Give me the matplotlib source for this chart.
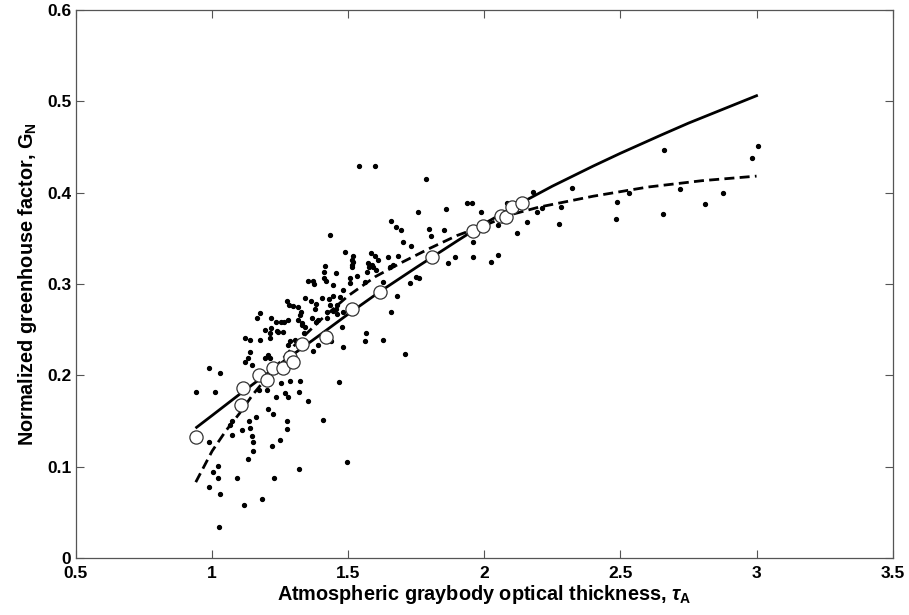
import matplotlib
matplotlib.use("Agg")
import matplotlib.pyplot as plt
from matplotlib import font_manager

# ---------------- data ----------------
dots_x = [0.941, 0.988, 1.029, 1.010, 1.121, 1.139, 1.176, 1.212, 1.212, 1.242, 1.278, 1.304,
          1.139, 1.132, 1.121, 1.146, 1.205, 1.194, 1.212, 1.172, 1.201, 1.253, 1.286, 1.323,
          1.319, 1.267, 1.278, 1.234, 1.352, 1.205, 1.223, 1.161, 1.135, 1.275, 1.407, 1.073,
          1.065, 1.139, 1.275, 1.110, 1.073, 1.146, 1.249, 1.150, 1.220, 0.988, 1.150, 1.132,
          1.021, 1.003, 1.319, 1.021, 1.091, 1.227, 0.988, 1.029, 1.183, 1.117, 1.025, 1.466,
          1.495, 1.330, 1.477, 1.565, 1.561, 1.627, 1.480, 1.389, 1.370, 1.436, 1.708, 1.176,
          1.165, 1.216, 1.234, 1.253, 1.264, 1.278, 1.315, 1.194, 1.216, 1.238, 1.260, 1.337,
          1.341, 1.286, 1.275, 1.282, 1.297, 1.341, 1.363, 1.381, 1.378, 1.403, 1.429, 1.444,
          1.469, 1.433, 1.458, 1.422, 1.444, 1.455, 1.480, 1.315, 1.326, 1.323, 1.367, 1.381,
          1.389, 1.488, 1.513, 1.513, 1.414, 1.411, 1.455, 1.532, 1.506, 1.506, 1.352, 1.370,
          1.374, 1.411, 1.418, 1.444, 1.433, 1.422, 1.458, 1.330, 1.539, 1.598, 1.785, 1.936,
          1.954, 2.083, 1.756, 1.859, 1.987, 1.657, 1.675, 1.693, 1.796, 1.851, 1.701, 1.804,
          1.730, 1.583, 1.598, 1.517, 1.646, 1.682, 1.517, 1.513, 1.572, 1.576, 1.587, 1.591,
          1.602, 1.609, 1.653, 1.664, 1.569, 1.748, 1.760, 1.726, 1.627, 1.892, 1.866, 1.958,
          1.958, 2.024, 2.050, 2.050, 1.679, 1.480, 1.657, 1.561, 2.178, 2.321, 2.211, 2.193,
          2.281, 2.156, 2.274, 2.119, 2.487, 2.483, 2.531, 2.659, 2.655, 2.718, 2.810, 2.876,
          2.982, 3.004]
dots_y = [0.182, 0.208, 0.202, 0.182, 0.241, 0.239, 0.239, 0.241, 0.246, 0.247, 0.233, 0.239,
          0.226, 0.219, 0.214, 0.211, 0.222, 0.219, 0.219, 0.184, 0.184, 0.191, 0.194, 0.194,
          0.182, 0.181, 0.176, 0.176, 0.172, 0.163, 0.158, 0.154, 0.150, 0.150, 0.151, 0.150,
          0.146, 0.142, 0.141, 0.140, 0.135, 0.134, 0.129, 0.127, 0.123, 0.127, 0.117, 0.108,
          0.101, 0.094, 0.097, 0.088, 0.088, 0.088, 0.078, 0.070, 0.065, 0.058, 0.034, 0.193,
          0.105, 0.255, 0.253, 0.246, 0.237, 0.239, 0.231, 0.233, 0.227, 0.237, 0.223, 0.268,
          0.263, 0.263, 0.258, 0.258, 0.258, 0.260, 0.261, 0.250, 0.252, 0.249, 0.247, 0.246,
          0.253, 0.237, 0.281, 0.277, 0.276, 0.285, 0.281, 0.278, 0.272, 0.285, 0.283, 0.287,
          0.286, 0.277, 0.277, 0.269, 0.270, 0.273, 0.269, 0.275, 0.269, 0.266, 0.263, 0.258,
          0.261, 0.335, 0.326, 0.321, 0.320, 0.313, 0.312, 0.309, 0.307, 0.301, 0.303, 0.303,
          0.300, 0.307, 0.303, 0.299, 0.354, 0.263, 0.267, 0.257, 0.429, 0.429, 0.415, 0.389,
          0.389, 0.389, 0.379, 0.382, 0.379, 0.369, 0.362, 0.359, 0.360, 0.359, 0.346, 0.352,
          0.341, 0.334, 0.331, 0.331, 0.330, 0.331, 0.324, 0.319, 0.323, 0.319, 0.321, 0.318,
          0.315, 0.326, 0.319, 0.321, 0.313, 0.308, 0.306, 0.301, 0.302, 0.330, 0.323, 0.329,
          0.346, 0.324, 0.332, 0.365, 0.287, 0.293, 0.269, 0.302, 0.401, 0.405, 0.383, 0.379,
          0.384, 0.368, 0.366, 0.356, 0.390, 0.371, 0.399, 0.447, 0.377, 0.404, 0.388, 0.400,
          0.438, 0.451]

circ_x = [0.940, 1.106, 1.112, 1.173, 1.201, 1.222, 1.259, 1.286, 1.298, 1.331, 1.420,
          1.514, 1.616, 1.809, 1.957, 1.996, 2.063, 2.081, 2.101, 2.137]
circ_y = [0.1325, 0.168, 0.186, 0.200, 0.195, 0.208, 0.208, 0.220, 0.215, 0.234, 0.242,
          0.273, 0.2915, 0.329, 0.358, 0.363, 0.374, 0.373, 0.384, 0.389]

solid_x = [0.943, 1.0, 1.1, 1.25, 1.4, 1.5, 1.616, 1.75, 1.9, 2.0, 2.137, 2.25, 2.4, 2.5,
           2.65, 2.75, 2.9, 3.0]
solid_y = [0.143, 0.156, 0.179, 0.2125, 0.245, 0.267, 0.2915, 0.318, 0.347, 0.366, 0.389,
           0.407, 0.429, 0.443, 0.463, 0.476, 0.494, 0.506]

dash_x = [0.94, 1.0, 1.05, 1.1, 1.15, 1.2, 1.3, 1.4, 1.5, 1.6, 1.7, 1.8, 1.9, 2.0, 2.1,
          2.2, 2.4, 2.6, 2.8, 3.0]
dash_y = [0.083, 0.117, 0.139, 0.158, 0.179, 0.197, 0.232, 0.261, 0.287, 0.308, 0.324,
          0.339, 0.353, 0.364, 0.376, 0.384, 0.396, 0.406, 0.413, 0.418]

x_ticks = [0.5, 1, 1.5, 2, 2.5, 3, 3.5]
x_tick_labels = ["0.5", "1", "1.5", "2", "2.5", "3", "3.5"]
y_ticks = [0, 0.1, 0.2, 0.3, 0.4, 0.5, 0.6]
y_tick_labels = ["0", "0.1", "0.2", "0.3", "0.4", "0.5", "0.6"]

# ---------------- style ----------------
avail = {f.name for f in font_manager.fontManager.ttflist}
fam = ["Liberation Sans Narrow"] if "Liberation Sans Narrow" in avail else ["Liberation Sans"]
plt.rcParams["font.family"] = fam + ["DejaVu Sans"]
plt.rcParams["mathtext.fontset"] = "custom"
plt.rcParams["mathtext.rm"] = fam[0] + ":bold"
plt.rcParams["mathtext.bf"] = fam[0] + ":bold"
plt.rcParams["mathtext.it"] = fam[0] + ":bold:italic"

fig = plt.figure(figsize=(9.09, 6.15), dpi=100)
ax = fig.add_axes([0.0836, 0.0927, 0.8984, 0.8913])

ax.plot(dots_x, dots_y, linestyle="none", marker="o", markersize=2.8,
        color="black", zorder=2)
ax.plot(dash_x, dash_y, color="black", linewidth=2.0,
        linestyle=(0, (3.6, 1.9)), zorder=3)
ax.plot(solid_x, solid_y, color="black", linewidth=2.0, zorder=3)
ax.plot(circ_x, circ_y, linestyle="none", marker="o", markersize=9.5,
        markerfacecolor="white", markeredgecolor="#333333", markeredgewidth=0.9, zorder=4)

ax.set_xlim(0.5, 3.5)
ax.set_ylim(0, 0.6)
ax.set_xticks(x_ticks)
ax.set_xticklabels(x_tick_labels)
ax.set_yticks(y_ticks)
ax.set_yticklabels(y_tick_labels)
ax.tick_params(direction="in", length=6, width=0.8, top=True, right=True,
               labelsize=12.5, colors="#555555", labelcolor="black")
ax.tick_params(axis="x", pad=6)
for lab in ax.get_xticklabels() + ax.get_yticklabels():
    lab.set_fontweight("bold")
for s in ax.spines.values():
    s.set_color("#555555")
    s.set_linewidth(0.9)

ax.set_xlabel(r"Atmospheric graybody optical thickness, $\tau_{\mathbf{A}}$",
              fontsize=14.3, fontweight="bold", labelpad=1)
ax.set_ylabel(r"Normalized greenhouse factor, G$_{\mathbf{N}}$",
              fontsize=14.3, fontweight="bold", labelpad=6)

fig.savefig("out.png", dpi=100)
